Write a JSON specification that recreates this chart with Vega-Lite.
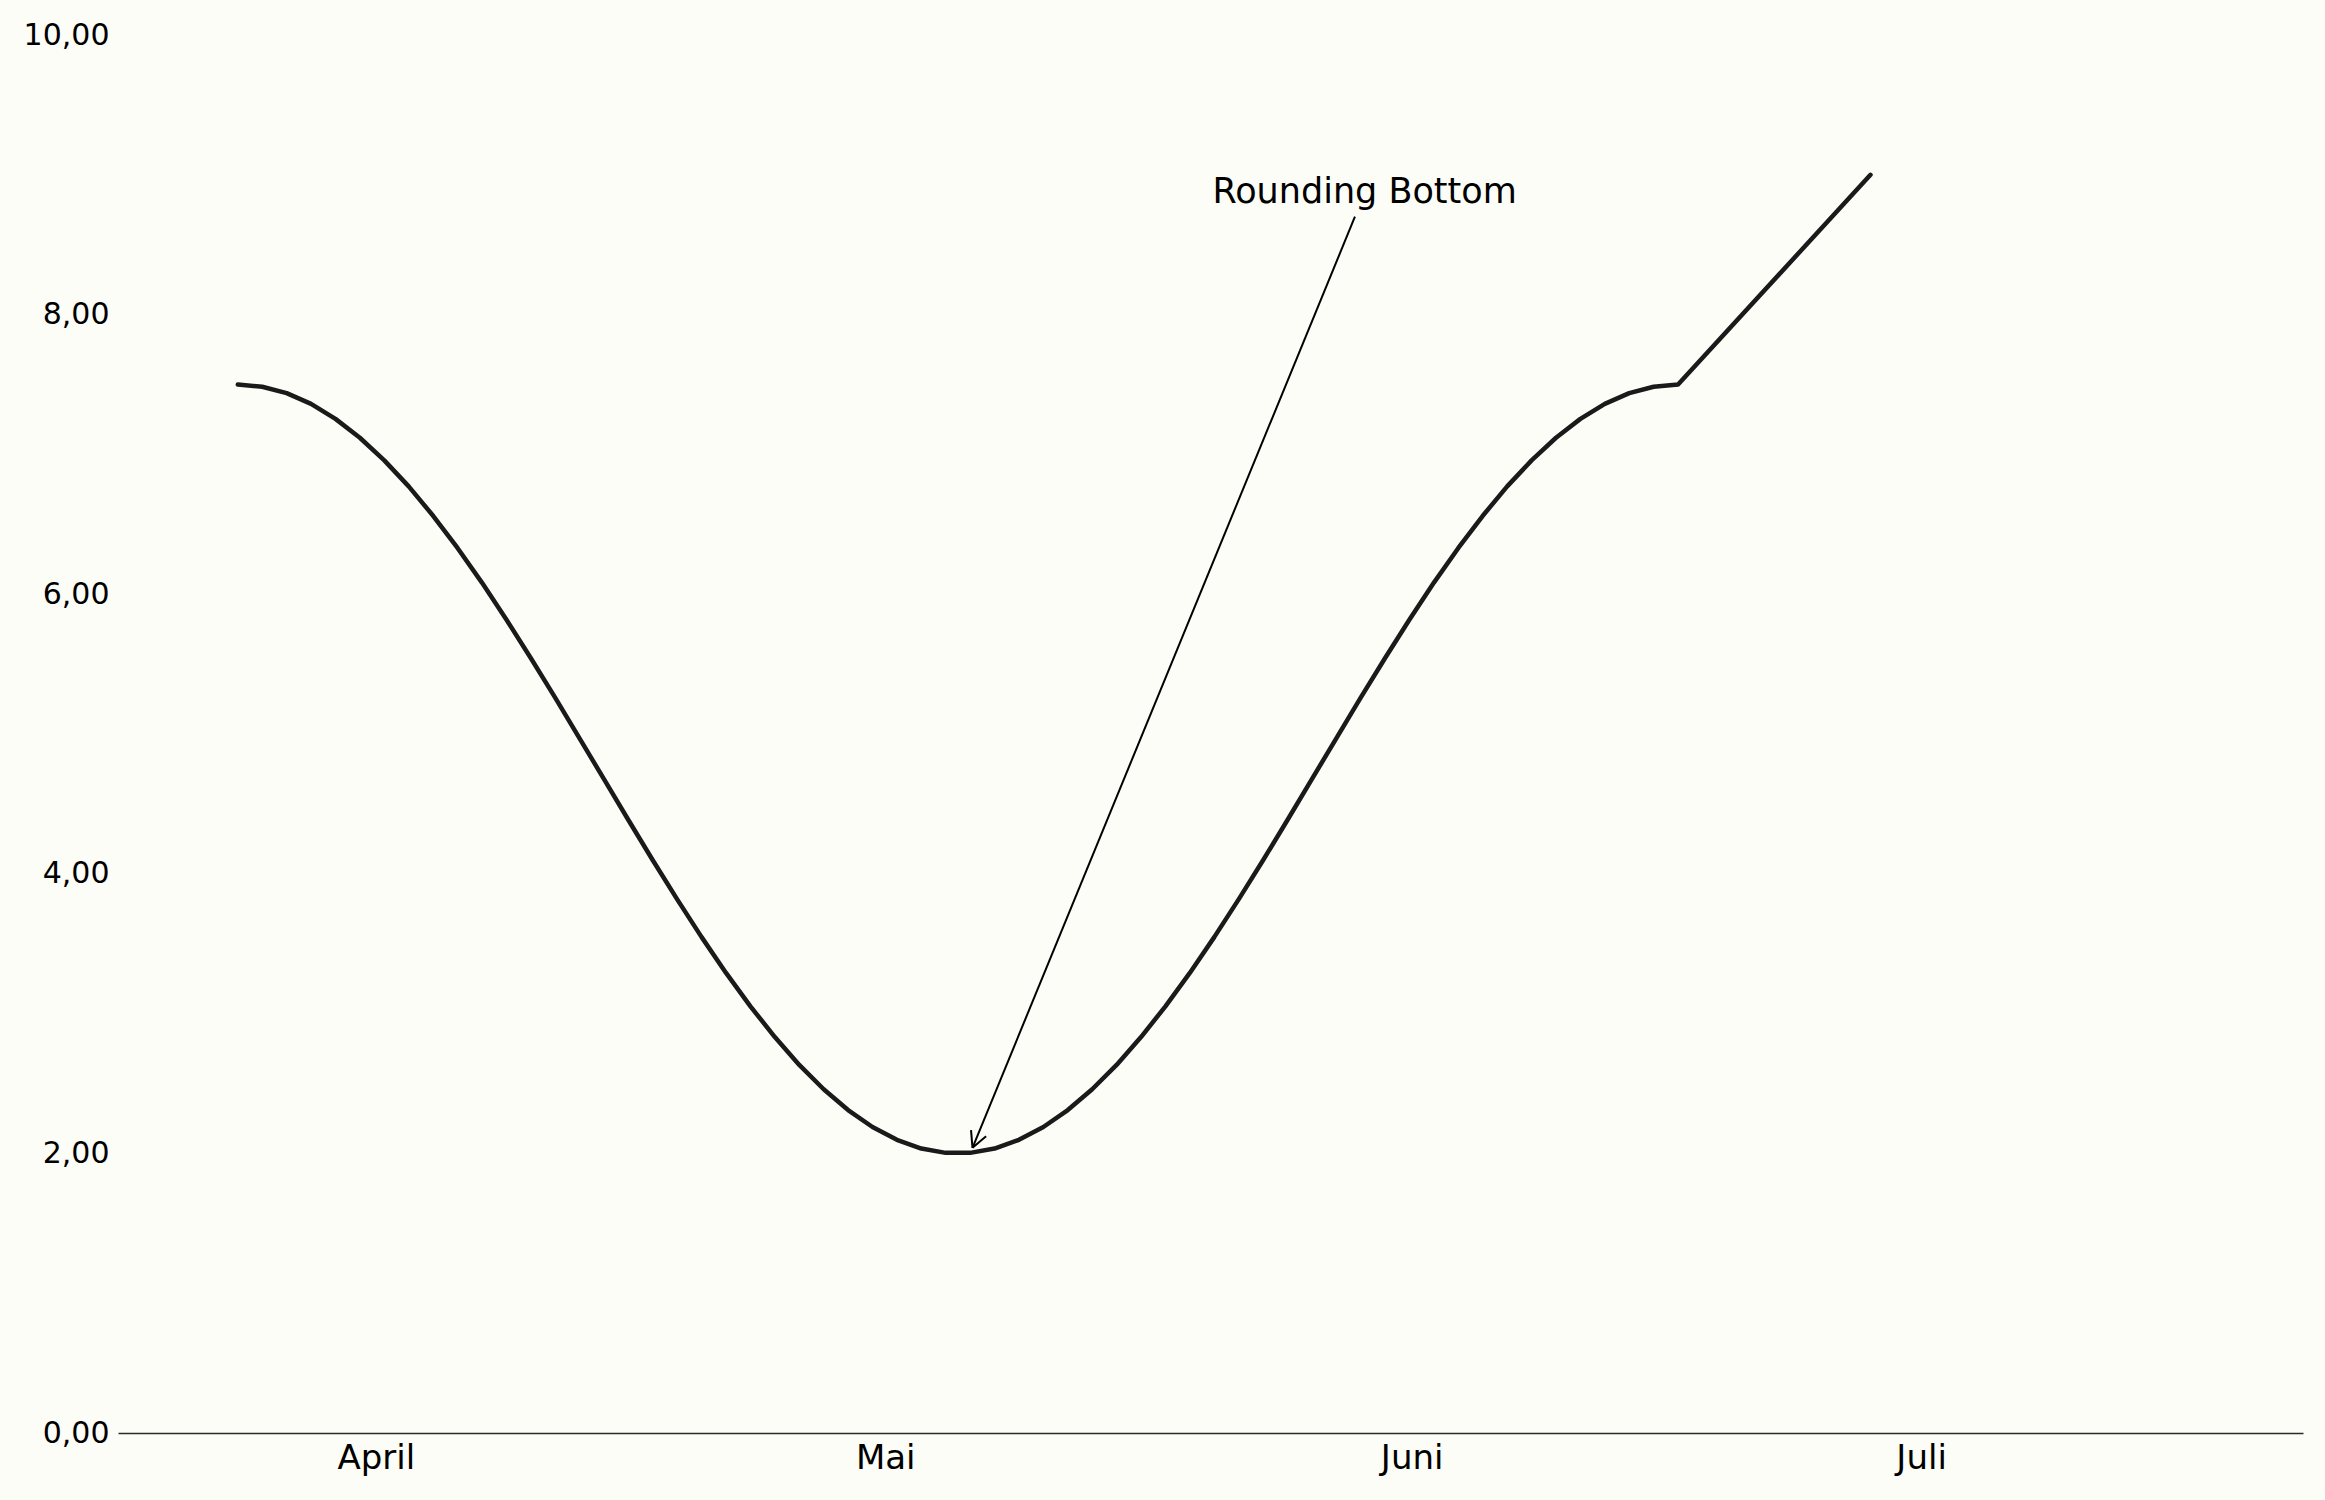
{
  "$schema": "https://vega.github.io/schema/vega-lite/v6.json",
  "width": 2185,
  "height": 1398,
  "autosize": {"type": "none"},
  "padding": {"left": 118, "top": 35, "right": 22, "bottom": 67},
  "background": "#fdfdf8",
  "config": {
    "view": {"stroke": null},
    "font": "DejaVu Sans"
  },
  "datasets": {
    "series": [
      {"Datum": "2023-03-23T21:00", "Wert": 7.5},
      {"Datum": "2023-03-25T07:30", "Wert": 7.484},
      {"Datum": "2023-03-26T18:00", "Wert": 7.438},
      {"Datum": "2023-03-28T04:30", "Wert": 7.361},
      {"Datum": "2023-03-29T15:00", "Wert": 7.254},
      {"Datum": "2023-03-31T01:30", "Wert": 7.119},
      {"Datum": "2023-04-01T12:00", "Wert": 6.957},
      {"Datum": "2023-04-02T22:30", "Wert": 6.771},
      {"Datum": "2023-04-04T09:00", "Wert": 6.561},
      {"Datum": "2023-04-05T19:30", "Wert": 6.331},
      {"Datum": "2023-04-07T06:00", "Wert": 6.083},
      {"Datum": "2023-04-08T16:30", "Wert": 5.819},
      {"Datum": "2023-04-10T03:00", "Wert": 5.544},
      {"Datum": "2023-04-11T13:30", "Wert": 5.26},
      {"Datum": "2023-04-13T00:00", "Wert": 4.969},
      {"Datum": "2023-04-14T10:30", "Wert": 4.677},
      {"Datum": "2023-04-15T21:00", "Wert": 4.385},
      {"Datum": "2023-04-17T07:30", "Wert": 4.097},
      {"Datum": "2023-04-18T18:00", "Wert": 3.817},
      {"Datum": "2023-04-20T04:30", "Wert": 3.547},
      {"Datum": "2023-04-21T15:00", "Wert": 3.291},
      {"Datum": "2023-04-23T01:30", "Wert": 3.052},
      {"Datum": "2023-04-24T12:00", "Wert": 2.832},
      {"Datum": "2023-04-25T22:30", "Wert": 2.633},
      {"Datum": "2023-04-27T09:00", "Wert": 2.459},
      {"Datum": "2023-04-28T19:30", "Wert": 2.31},
      {"Datum": "2023-04-30T06:00", "Wert": 2.189},
      {"Datum": "2023-05-01T16:30", "Wert": 2.097},
      {"Datum": "2023-05-03T03:00", "Wert": 2.035},
      {"Datum": "2023-05-04T13:30", "Wert": 2.004},
      {"Datum": "2023-05-06T00:00", "Wert": 2.004},
      {"Datum": "2023-05-07T10:30", "Wert": 2.035},
      {"Datum": "2023-05-08T21:00", "Wert": 2.097},
      {"Datum": "2023-05-10T07:30", "Wert": 2.189},
      {"Datum": "2023-05-11T18:00", "Wert": 2.31},
      {"Datum": "2023-05-13T04:30", "Wert": 2.459},
      {"Datum": "2023-05-14T15:00", "Wert": 2.633},
      {"Datum": "2023-05-16T01:30", "Wert": 2.832},
      {"Datum": "2023-05-17T12:00", "Wert": 3.052},
      {"Datum": "2023-05-18T22:30", "Wert": 3.291},
      {"Datum": "2023-05-20T09:00", "Wert": 3.547},
      {"Datum": "2023-05-21T19:30", "Wert": 3.817},
      {"Datum": "2023-05-23T06:00", "Wert": 4.097},
      {"Datum": "2023-05-24T16:30", "Wert": 4.385},
      {"Datum": "2023-05-26T03:00", "Wert": 4.677},
      {"Datum": "2023-05-27T13:30", "Wert": 4.969},
      {"Datum": "2023-05-29T00:00", "Wert": 5.26},
      {"Datum": "2023-05-30T10:30", "Wert": 5.544},
      {"Datum": "2023-05-31T21:00", "Wert": 5.819},
      {"Datum": "2023-06-02T07:30", "Wert": 6.083},
      {"Datum": "2023-06-03T18:00", "Wert": 6.331},
      {"Datum": "2023-06-05T04:30", "Wert": 6.561},
      {"Datum": "2023-06-06T15:00", "Wert": 6.771},
      {"Datum": "2023-06-08T01:30", "Wert": 6.957},
      {"Datum": "2023-06-09T12:00", "Wert": 7.119},
      {"Datum": "2023-06-10T22:30", "Wert": 7.254},
      {"Datum": "2023-06-12T09:00", "Wert": 7.361},
      {"Datum": "2023-06-13T19:30", "Wert": 7.438},
      {"Datum": "2023-06-15T06:00", "Wert": 7.484},
      {"Datum": "2023-06-16T16:30", "Wert": 7.5},
      {"Datum": "2023-06-28T00:30", "Wert": 9.0}
    ],
    "arrow": [
      {"von": "2023-05-28T15:50", "bis": "2023-05-06T03:20", "y1": 8.7, "y2": 2.04},
      {"von": "2023-05-06T03:20", "bis": "2023-05-06T01:15", "y1": 2.04, "y2": 2.166},
      {"von": "2023-05-06T03:20", "bis": "2023-05-06T22:35", "y1": 2.04, "y2": 2.123}
    ],
    "label": [
      {"Datum": "2023-05-29T05:30", "Wert": 8.8, "Text": "Rounding Bottom"}
    ]
  },
  "encoding": {
    "x": {
      "type": "temporal",
      "scale": {"domain": ["2023-03-16T19:40", "2023-07-23T11:45"]},
      "axis": {
        "title": null,
        "values": [
          {"year": 2023, "month": 4, "date": 1},
          {"year": 2023, "month": 5, "date": 1},
          {"year": 2023, "month": 6, "date": 1},
          {"year": 2023, "month": 7, "date": 1}
        ],
        "labelExpr": "['Januar','Februar','März','April','Mai','Juni','Juli','August'][month(datum.value)]",
        "grid": false,
        "ticks": false,
        "domain": true,
        "domainColor": "#2a2a2a",
        "domainWidth": 1.7,
        "labelFontSize": 34,
        "labelColor": "#000000",
        "labelPadding": 8,
        "labelFlush": false
      }
    },
    "y": {
      "type": "quantitative",
      "scale": {"domain": [0, 10], "nice": false},
      "axis": {
        "title": null,
        "values": [0, 2, 4, 6, 8, 10],
        "labelExpr": "replace(format(datum.value, '.2f'), '.', ',')",
        "grid": false,
        "ticks": false,
        "domain": false,
        "labelFontSize": 30,
        "labelColor": "#000000",
        "labelPadding": 9,
        "labelFlush": false
      }
    }
  },
  "layer": [
    {
      "data": {"name": "series"},
      "mark": {"type": "line", "color": "#1a1a1a", "strokeWidth": 4.5, "strokeCap": "round", "strokeJoin": "round"},
      "encoding": {
        "x": {"field": "Datum", "type": "temporal"},
        "y": {"field": "Wert", "type": "quantitative"}
      }
    },
    {
      "data": {"name": "arrow"},
      "mark": {"type": "rule", "color": "#000000", "strokeWidth": 2},
      "encoding": {
        "x": {"field": "von", "type": "temporal"},
        "x2": {"field": "bis"},
        "y": {"field": "y1", "type": "quantitative"},
        "y2": {"field": "y2"}
      }
    },
    {
      "data": {"name": "label"},
      "mark": {"type": "text", "fontSize": 35, "align": "center", "baseline": "alphabetic", "color": "#000000"},
      "encoding": {
        "x": {"field": "Datum", "type": "temporal"},
        "y": {"field": "Wert", "type": "quantitative"},
        "text": {"field": "Text"}
      }
    }
  ]
}
